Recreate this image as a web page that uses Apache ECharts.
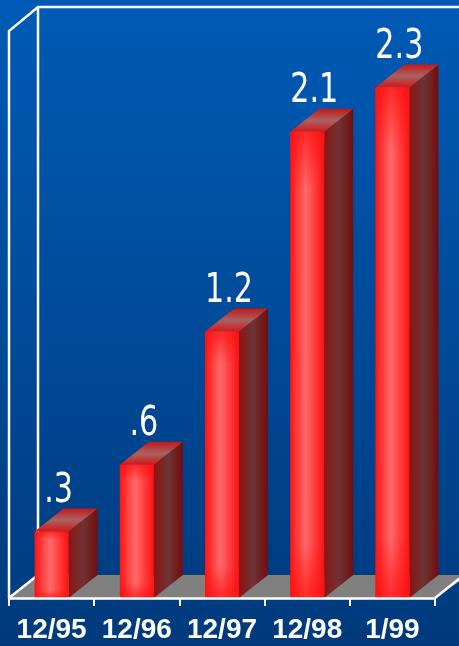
<!DOCTYPE html>
<html>
<head>
<meta charset="utf-8">
<script src="https://cdn.jsdelivr.net/npm/echarts@6/dist/echarts.min.js"></script>
<style>
  html, body { margin: 0; padding: 0; }
  #chart {
    width: 459px; height: 646px;
    background: linear-gradient(to bottom, #005ab5 0%, #004c9c 45%, #003a7c 100%);
  }
</style>
</head>
<body>
<div id="chart"></div>
<script>
var categories = ['12/95', '12/96', '12/97', '12/98', '1/99'];
var values = [0.3, 0.6, 1.2, 2.1, 2.3];
var valueLabels = ['.3', '.6', '1.2', '2.1', '2.3'];

// layout of the fake 3d box
var LEFT = 9, RIGHT = 435, BASE = 598, WALL_TOP = 7;
var DX = 29, DY = -23;
var BAR_W = 34;
var Y_MAX = 2.5;
var PX_PER_UNIT = 222;

var chart = echarts.init(document.getElementById('chart'));

function lin(x2, y2, stops) {
  return new echarts.graphic.LinearGradient(0, 0, x2, y2, stops);
}

function renderBar(params, api) {
  var i = api.value(0);
  var top = api.coord([i, api.value(1)]);
  var base = api.coord([i, 0]);
  var x0 = top[0] - BAR_W / 2, x1 = top[0] + BAR_W / 2;
  var ty = top[1], by = base[1];
  return {
    type: 'group',
    children: [
      {
        type: 'polygon',
        shape: { points: [[x1, ty], [x1 + DX, ty + DY], [x1 + DX, by + DY], [x1, by]] },
        style: { fill: lin(1, 0, [
          { offset: 0, color: '#8c1414' },
          { offset: 0.5, color: '#6e3434' },
          { offset: 1, color: '#740c0c' }
        ]) }
      },
      {
        type: 'polygon',
        shape: { points: [[x0, ty], [x1, ty], [x1 + DX, ty + DY], [x0 + DX, ty + DY]] },
        style: { fill: lin(0, 1, [
          { offset: 0, color: '#c41818' },
          { offset: 0.5, color: '#a86262' },
          { offset: 1, color: '#d41818' }
        ]) }
      },
      {
        type: 'rect',
        shape: { x: x0, y: ty, width: BAR_W, height: by - ty },
        style: { fill: lin(1, 0, [
          { offset: 0, color: '#ff1212' },
          { offset: 0.45, color: '#ff6a6a' },
          { offset: 1, color: '#ff1010' }
        ]) }
      },
      {
        type: 'rect',
        shape: { x: x0, y: ty, width: BAR_W, height: by - ty },
        style: { fill: lin(0, 1, [
          { offset: 0, color: 'rgba(255,16,16,0.7)' },
          { offset: 0.12, color: 'rgba(255,16,16,0)' },
          { offset: 0.88, color: 'rgba(255,16,16,0)' },
          { offset: 1, color: 'rgba(255,16,16,0.7)' }
        ]) }
      },
      {
        type: 'text',
        x: top[0] + 7,
        y: ty + DY + 3,
        scaleX: 0.84,
        style: {
          text: valueLabels[i],
          x: 0,
          y: 0,
          align: 'center',
          verticalAlign: 'bottom',
          fill: '#ffffff',
          font: '40px "DejaVu Sans Condensed", "DejaVu Sans", sans-serif'
        }
      }
    ]
  };
}

var line = { stroke: '#ffffff', lineWidth: 2.5 };

var option = {
  animation: false,
  grid: {
    left: LEFT,
    width: RIGHT - LEFT,
    top: BASE - Y_MAX * PX_PER_UNIT,
    height: Y_MAX * PX_PER_UNIT
  },
  xAxis: {
    type: 'category',
    data: categories,
    axisLine: { show: true, lineStyle: { color: '#ffffff', width: 2.5 } },
    axisTick: { show: true, interval: 0, length: 8, lineStyle: { color: '#ffffff', width: 2 } },
    axisLabel: {
      interval: 0,
      hideOverlap: false,
      color: '#ffffff',
      fontSize: 28,
      fontWeight: 'bold',
      fontFamily: '"Liberation Sans", Arial, sans-serif',
      margin: 18
    },
    z: 5
  },
  yAxis: { type: 'value', min: 0, max: Y_MAX, show: false },
  graphic: [
    { type: 'polygon', z: 0, shape: { points: [[LEFT, BASE], [RIGHT, BASE], [RIGHT + DX + 5, BASE + DY], [LEFT + DX, BASE + DY]] }, style: { fill: '#808080' } },
    { type: 'polyline', z: 0, shape: { points: [[LEFT, BASE], [LEFT, WALL_TOP - DY + 1], [LEFT + DX, WALL_TOP], [459, WALL_TOP]] }, style: line },
    { type: 'line', z: 0, shape: { x1: LEFT + DX, y1: WALL_TOP, x2: LEFT + DX, y2: BASE + DY }, style: line },
    { type: 'line', z: 0, shape: { x1: LEFT, y1: BASE, x2: LEFT + DX, y2: BASE + DY }, style: line },
    { type: 'line', z: 0, shape: { x1: RIGHT, y1: BASE, x2: RIGHT + DX, y2: BASE + DY }, style: line }
  ],
  series: [{
    type: 'custom',
    renderItem: renderBar,
    encode: { x: 0, y: 1 },
    data: values.map(function (v, i) { return [i, v]; }),
    z: 3
  }]
};

chart.setOption(option);
window.addEventListener('resize', function () { chart.resize(); });
</script>
</body>
</html>
